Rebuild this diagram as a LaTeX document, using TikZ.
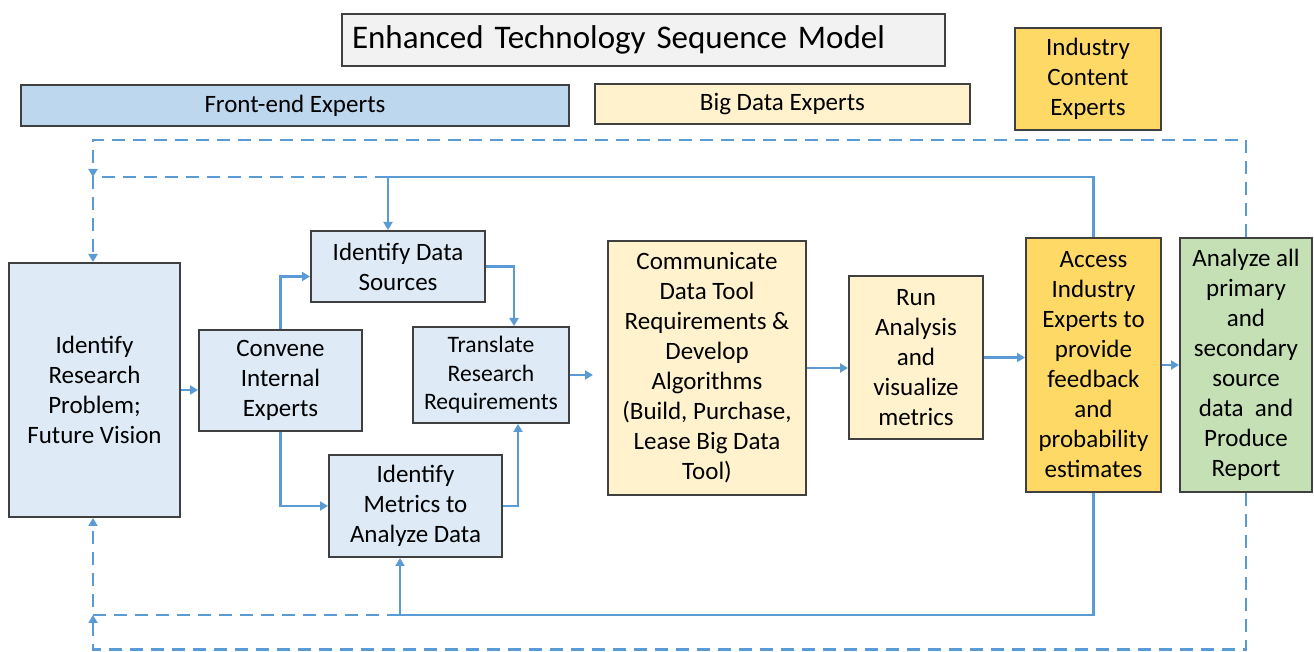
\documentclass[tikz,border=0pt]{standalone}
\usepackage{fontspec}
\setmainfont{Carlito}
\usetikzlibrary{arrows.meta,calc}
\definecolor{a}{RGB}{91, 155, 213}
\definecolor{b}{RGB}{222, 235, 247}
\definecolor{c}{RGB}{189, 215, 238}
\definecolor{d}{RGB}{255, 242, 204}
\definecolor{e}{RGB}{255, 217, 102}
\definecolor{f}{RGB}{197, 224, 180}
\definecolor{g}{RGB}{242, 242, 242}

\begin{document}
\begin{tikzpicture}[x=0.5pt,y=-0.5pt,
	box/.style={draw=black!75,line width=1pt,inner sep=0pt,align=center,font=\fontsize{12.5}{15}\selectfont},
	flow/.style={draw=a,line width=1.4pt,-{Triangle[length=4pt,width=4.5pt]}},
	dflow/.style={flow,dash pattern=on 6.5pt off 4pt}]
			\path[use as bounding box,fill=white] (0,0) rectangle (1314,652); % cadre
			% titres
			\node[box,fill=g,minimum width=301.5pt,minimum height=26pt,text width=291.5pt,align=left,font=\fontsize{16.5}{20}\selectfont] (title) at (643.5,40) {Enhanced Technology Sequence Model};
			\node[box,fill=c,minimum width=274pt,minimum height=20.5pt] (front) at (295,105.5) {Front-end Experts};
			\node[box,fill=d,minimum width=187.5pt,minimum height=20pt] (bigdata) at (782.5,104) {Big Data Experts};
			\node[box,fill=e,minimum width=73pt,minimum height=51pt] (industry) at (1088,79) {Industry\\Content\\Experts};
			% etapes
			\node[box,fill=b,minimum width=85.5pt,minimum height=127pt] (research) at (94.5,390) {Identify\\Research\\Problem;\\Future Vision};
			\node[box,fill=b,minimum width=81.5pt,minimum height=50.5pt] (convene) at (280.5,380.5) {Convene\\Internal\\Experts};
			\node[box,fill=b,minimum width=87pt,minimum height=35.5pt] (sources) at (398,266.5) {Identify Data\\Sources};
			\node[box,fill=b,minimum width=78pt,minimum height=48pt,font=\fontsize{11.8}{14.2}\selectfont] (translate) at (491,375) {Translate\\Research\\Requirements};
			\node[box,fill=b,minimum width=86.5pt,minimum height=51pt] (metrics) at (415.5,506) {Identify\\Metrics to\\Analyze Data};
			\node[box,fill=d,minimum width=99pt,minimum height=127pt] (communicate) at (707,368) {Communicate\\Data Tool\\Requirements \&\\Develop\\Algorithms\\(Build, Purchase,\\Lease Big Data\\Tool)};
			\node[box,fill=d,minimum width=67pt,minimum height=81.5pt] (run) at (916,357.5) {Run\\Analysis\\and\\visualize\\metrics};
			\node[box,fill=e,minimum width=67.5pt,minimum height=127pt] (access) at (1093.5,365) {Access\\Industry\\Experts to\\provide\\feedback\\and\\probability\\estimates};
			\node[box,fill=f,minimum width=66pt,minimum height=127pt] (analyze) at (1246,365) {Analyze all\\primary\\and\\secondary\\source\\data\ \ and\\Produce\\Report};
			% liens
			\draw[flow] (research.east) -- (research.east -| convene.west);
			\draw[flow] (convene.north) |- ($(sources.west)+(0,10)$);
			\draw[flow] (convene.south) |- (metrics.west);
			\draw[flow] (sources.east) -| ($(translate.north)+(23,0)$);
			\draw[flow] (metrics.east) -| ($(translate.south)+(27,0)$);
			\draw[flow,shorten >=7pt] (translate.east) -- (translate.east -| communicate.west);
			\draw[flow] (communicate.east) -- (communicate.east -| run.west);
			\draw[flow] (run.east) -- (run.east -| access.west);
			\draw[flow] (access.east) -- (access.east -| analyze.west);
			% retours
			\coordinate (tj) at (388,177);
			\coordinate (tl) at (93,177);
			\coordinate (ot) at (93,140);
			\coordinate (bj) at (400,615);
			\coordinate (bl) at (93,615);
			\coordinate (ob) at (93,649.5);
			\draw[flow] (access.north) |- (tj) -- (tj |- sources.north);
			\draw[flow] (access.south) |- (bj) -- (bj |- metrics.south);
			\draw[dflow] (tj) -- (tl) -- (tl |- research.north);
			\draw[dflow] (analyze.north) |- (ot) -- (tl);
			\draw[dflow] (bj) -- (bl) -- (bl |- research.south);
			\draw[dflow] (analyze.south) |- (ob) -- (bl);
			\end{tikzpicture}
\end{document}
